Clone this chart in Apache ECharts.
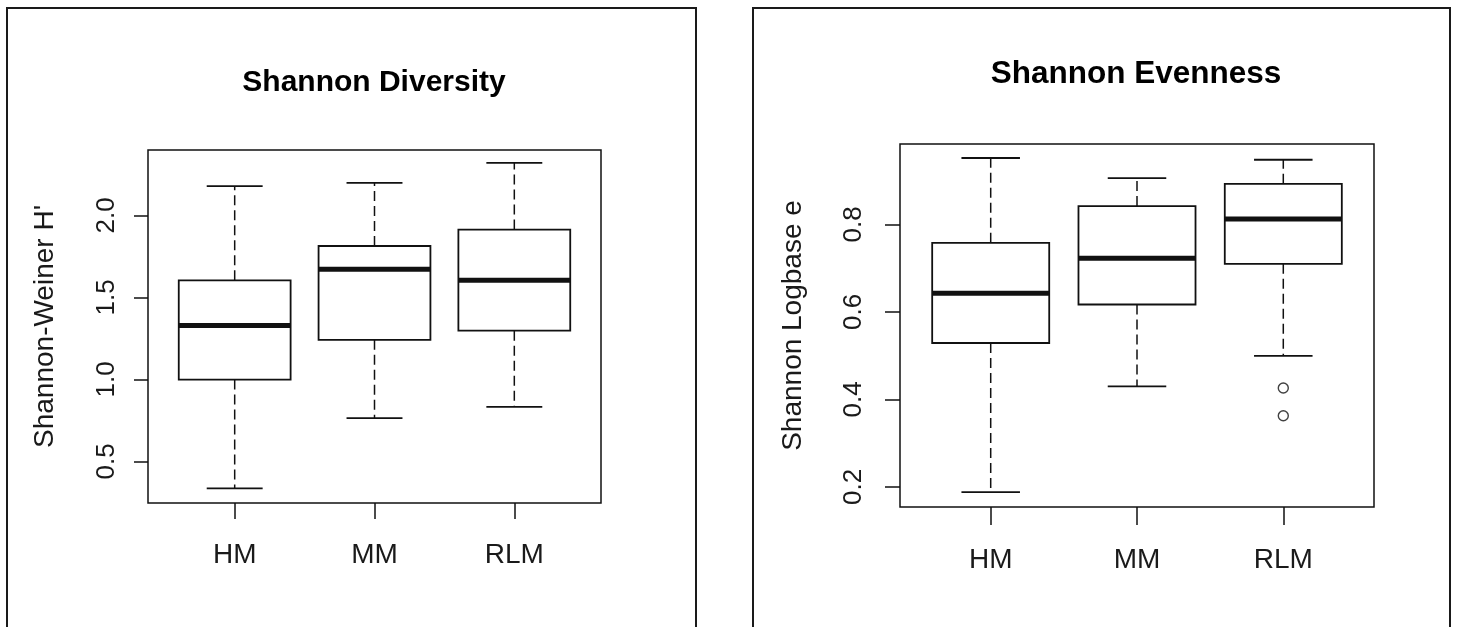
<!DOCTYPE html>
<html>
<head>
<meta charset="utf-8">
<title>Shannon Diversity and Evenness</title>
<script src="https://cdn.jsdelivr.net/npm/echarts@6/dist/echarts.min.js"></script>
<style>
  html, body { margin: 0; padding: 0; background: #fff; }
  #chart { width: 1457px; height: 627px; }
</style>
</head>
<body>
<div id="chart"></div>
<script>
// Sites
const categories = ['HM', 'MM', 'RLM'];

// Shannon-Weiner H' five-number summaries per site
const diversityLow    = [0.336, 0.764, 0.833];
const diversityQ1     = [0.999, 1.241, 1.297];
const diversityMedian = [1.328, 1.671, 1.605];
const diversityQ3     = [1.604, 1.813, 1.913];
const diversityHigh   = [2.178, 2.198, 2.320];
const diversityTicks  = [0.5, 1.0, 1.5, 2.0];

// Shannon evenness (log base e) five-number summaries per site
const evennessLow    = [0.188, 0.430, 0.4995];
const evennessQ1     = [0.529, 0.617, 0.710];
const evennessMedian = [0.643, 0.723, 0.8125];
const evennessQ3     = [0.758, 0.842, 0.893];
const evennessHigh   = [0.952, 0.906, 0.948];
const evennessOutlierSite  = ['RLM', 'RLM'];
const evennessOutlierValue = [0.426, 0.3625];
const evennessTicks  = [0.2, 0.4, 0.6, 0.8];

const INK = '#111';
const FONT = "'Liberation Sans', Arial, sans-serif";
const NARROW = "'Liberation Sans Narrow', 'Arial Narrow', 'Liberation Sans', Arial, sans-serif";

function summaryRows(low, q1, med, q3, high) {
  return categories.map((c, i) => [i + 1, low[i], q1[i], med[i], q3[i], high[i]]);
}

// Box, median bar, dashed whiskers and staples, positioned on the value axes
function renderBox(params, api) {
  const x = api.value(0);
  const low = api.value(1), q1 = api.value(2), med = api.value(3),
        q3 = api.value(4), high = api.value(5);
  const boxHalf = 0.4, capHalf = 0.2;
  const p = (xx, yy) => api.coord([xx, yy]);
  const tl = p(x - boxHalf, q3), br = p(x + boxHalf, q1);
  const mid = p(x, q3), midLow = p(x, q1), top = p(x, high), bot = p(x, low);
  const capT1 = p(x - capHalf, high), capT2 = p(x + capHalf, high);
  const capB1 = p(x - capHalf, low), capB2 = p(x + capHalf, low);
  const m1 = p(x - boxHalf, med), m2 = p(x + boxHalf, med);
  const dashed = { stroke: INK, lineWidth: 1.5, lineDash: [10, 5], fill: null };
  const solid = { stroke: INK, lineWidth: 1.8, fill: null };
  return {
    type: 'group',
    children: [
      { type: 'line', shape: { x1: mid[0], y1: mid[1], x2: top[0], y2: top[1] }, style: dashed },
      { type: 'line', shape: { x1: midLow[0], y1: midLow[1], x2: bot[0], y2: bot[1] }, style: dashed },
      { type: 'line', shape: { x1: capT1[0], y1: capT1[1], x2: capT2[0], y2: capT2[1] }, style: solid },
      { type: 'line', shape: { x1: capB1[0], y1: capB1[1], x2: capB2[0], y2: capB2[1] }, style: solid },
      { type: 'rect', shape: { x: tl[0], y: tl[1], width: br[0] - tl[0], height: br[1] - tl[1] },
        style: { stroke: INK, lineWidth: 1.8, fill: '#fff' } },
      { type: 'line', shape: { x1: m1[0], y1: m1[1], x2: m2[0], y2: m2[1] },
        style: { stroke: INK, lineWidth: 5, fill: null } }
    ]
  };
}

function xAxisFor(gridIndex, labelMargin, tickLen) {
  return {
    type: 'value', gridIndex, min: 0.38, max: 3.62,
    splitLine: { show: false },
    axisLine: { show: false },
    axisTick: { show: true, length: tickLen, customValues: [1, 2, 3],
                lineStyle: { color: INK, width: 1.5 } },
    axisLabel: {
      customValues: [1, 2, 3],
      formatter: v => categories[Math.round(v) - 1],
      margin: labelMargin,
      color: '#1a1a1a',
      fontFamily: NARROW,
      fontSize: 28
    }
  };
}

function yAxisFor(gridIndex, min, max, ticks, name, labelMargin, nameGap, tickLen) {
  return {
    type: 'value', gridIndex, min, max,
    name, nameLocation: 'middle', nameGap,
    nameTextStyle: { fontFamily: FONT, fontSize: 28, color: '#1a1a1a' },
    splitLine: { show: false },
    axisLine: { show: false },
    axisTick: { show: true, length: tickLen, customValues: ticks,
                lineStyle: { color: INK, width: 1.5 } },
    axisLabel: {
      customValues: ticks,
      formatter: v => v.toFixed(1),
      rotate: 90,
      margin: labelMargin,
      color: '#1a1a1a',
      fontFamily: FONT,
      fontSize: 26
    }
  };
}

const outlierPoints = evennessOutlierSite.map((s, i) => [categories.indexOf(s) + 1, evennessOutlierValue[i]]);

const chart = echarts.init(document.getElementById('chart'), null, { renderer: 'canvas' });

chart.setOption({
  animation: false,
  backgroundColor: '#fff',
  title: [
    { text: 'Shannon Diversity', left: 369, textAlign: 'center', top: 63,
      textStyle: { fontFamily: FONT, fontWeight: 'bold', fontSize: 30, color: '#000' } },
    { text: 'Shannon Evenness', left: 1131, textAlign: 'center', top: 53,
      textStyle: { fontFamily: FONT, fontWeight: 'bold', fontSize: 31.5, color: '#000' } }
  ],
  graphic: [
    { type: 'rect', shape: { x: 7, y: 8, width: 689, height: 700 },
      style: { fill: null, stroke: '#1a1a1a', lineWidth: 2 }, silent: true },
    { type: 'rect', shape: { x: 753, y: 8, width: 697, height: 700 },
      style: { fill: null, stroke: '#1a1a1a', lineWidth: 2 }, silent: true }
  ],
  grid: [
    { left: 148, top: 150, width: 453, height: 353, show: true, borderColor: INK, borderWidth: 1.5, backgroundColor: 'transparent' },
    { left: 900, top: 144, width: 474, height: 363, show: true, borderColor: INK, borderWidth: 1.5, backgroundColor: 'transparent' }
  ],
  xAxis: [xAxisFor(0, 38, 16), xAxisFor(1, 39, 18)],
  yAxis: [
    yAxisFor(0, 0.247, 2.398, diversityTicks, "Shannon-Weiner H'", 28, 89, 14),
    yAxisFor(1, 0.154, 0.984, evennessTicks, 'Shannon Logbase e', 33, 93, 15)
  ],
  series: [
    {
      type: 'custom', xAxisIndex: 0, yAxisIndex: 0,
      renderItem: renderBox,
      encode: { x: 0, y: [1, 2, 3, 4, 5] },
      data: summaryRows(diversityLow, diversityQ1, diversityMedian, diversityQ3, diversityHigh)
    },
    {
      type: 'custom', xAxisIndex: 1, yAxisIndex: 1,
      renderItem: renderBox,
      encode: { x: 0, y: [1, 2, 3, 4, 5] },
      data: summaryRows(evennessLow, evennessQ1, evennessMedian, evennessQ3, evennessHigh)
    },
    {
      type: 'scatter', xAxisIndex: 1, yAxisIndex: 1,
      symbol: 'circle', symbolSize: 10,
      itemStyle: { color: '#fff', borderColor: INK, borderWidth: 1.4 },
      data: outlierPoints
    }
  ]
});
</script>
</body>
</html>
